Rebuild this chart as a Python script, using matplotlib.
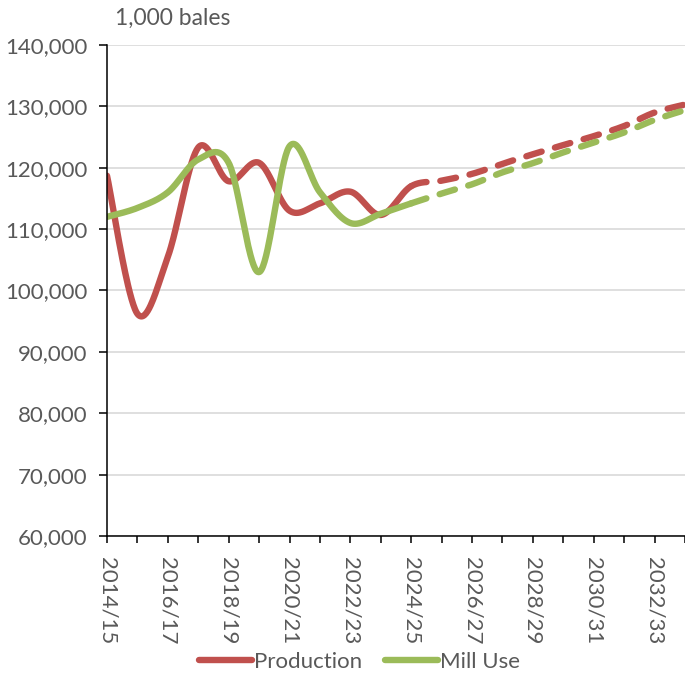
import numpy as np
import matplotlib
matplotlib.use("Agg")
import matplotlib.pyplot as plt
from matplotlib.ticker import FuncFormatter

years = ["2014/15", "2015/16", "2016/17", "2017/18", "2018/19", "2019/20",
         "2020/21", "2021/22", "2022/23", "2023/24", "2024/25", "2025/26",
         "2026/27", "2027/28", "2028/29", "2029/30", "2030/31", "2031/32",
         "2032/33", "2033/34"]
production = [118700, 96200, 105500, 123300, 117800, 120800, 113000, 114200,
              116100, 112300, 117000, 117900, 119000, 120650, 122200, 123700,
              125150, 126800, 129000, 130300]
mill_use = [112000, 113450, 116000, 121350, 120800, 103000, 123500, 116000,
            111000, 112500, 114200, 115800, 117300, 119250, 120750, 122500,
            124100, 125750, 127800, 129400]
last_actual = 10  # 2024/25, projections dashed after this

RED = "#C0504D"
GREEN = "#9BBB59"
GREY = "#595959"

plt.rcParams["font.family"] = ["Lato", "DejaVu Sans"]
plt.rcParams["lines.scale_dashes"] = False


def smooth(vals, n=40):
    # bezier smoothing like Excel's "smoothed line"
    x = np.arange(len(vals), dtype=float)
    y = np.asarray(vals, dtype=float)
    px = np.concatenate([[x[0]], x, [x[-1]]])
    py = np.concatenate([[y[0]], y, [y[-1]]])
    t = np.linspace(0, 1, n)[:, None]
    segs = []
    for i in range(len(y) - 1):
        p0 = np.array([px[i + 1], py[i + 1]])
        p3 = np.array([px[i + 2], py[i + 2]])
        c1 = p0 + (np.array([px[i + 2], py[i + 2]]) - np.array([px[i], py[i]])) / 6
        c2 = p3 - (np.array([px[i + 3], py[i + 3]]) - np.array([px[i + 1], py[i + 1]])) / 6
        pts = ((1 - t) ** 3 * p0 + 3 * (1 - t) ** 2 * t * c1
               + 3 * (1 - t) * t ** 2 * c2 + t ** 3 * p3)
        segs.append(pts)
    return segs


fig = plt.figure(figsize=(6.85, 6.73), dpi=100)
ax = fig.add_axes([107 / 685, 1 - 536 / 673, 1 - 107 / 685, (536 - 45) / 673])

for vals, col, lab in [(production, RED, "Production"), (mill_use, GREEN, "Mill Use")]:
    segs = smooth(vals)
    solid = np.vstack(segs[:last_actual])
    dashed = np.vstack(segs[last_actual:])
    ax.plot(solid[:, 0], solid[:, 1], color=col, lw=4.6,
            solid_capstyle="round", label=lab)
    ax.plot(dashed[:, 0], dashed[:, 1], color=col, lw=4.6,
            dashes=(11.5, 10), dash_capstyle="round")

ax.set_xlim(0, len(years) - 1)
ax.set_ylim(60000, 140000)
ax.set_yticks(np.arange(60000, 140001, 10000))
ax.yaxis.set_major_formatter(FuncFormatter(lambda v, p: f"{v:,.0f}"))
ax.set_xticks(range(len(years)))
ax.set_xticklabels([y if i % 2 == 0 else "" for i, y in enumerate(years)],
                   rotation=270, va="top", ha="center")

ax.grid(axis="y", color="#D9D9D9", lw=1.2)
ax.set_axisbelow(True)
for s in ["top", "right"]:
    ax.spines[s].set_visible(False)
for s in ["left", "bottom"]:
    ax.spines[s].set_linewidth(1.1)
    ax.spines[s].set_color("black")
ax.tick_params(axis="y", direction="out", length=6, width=1.1,
               labelsize=16, labelcolor=GREY, pad=8)
ax.tick_params(axis="x", direction="out", length=5, width=1.1,
               labelsize=16, labelcolor=GREY, pad=10)

fig.text(115 / 685, 1 - 18 / 673, "1,000 bales", fontsize=16.5, color=GREY,
         va="center", ha="left")

fig.legend(loc="center", bbox_to_anchor=(0.525, 1 - 662 / 673), ncol=2,
           frameon=False, fontsize=16, handlelength=2.4, handletextpad=0.1,
           columnspacing=1.0, labelcolor=GREY)

fig.savefig("out.png", dpi=100)
